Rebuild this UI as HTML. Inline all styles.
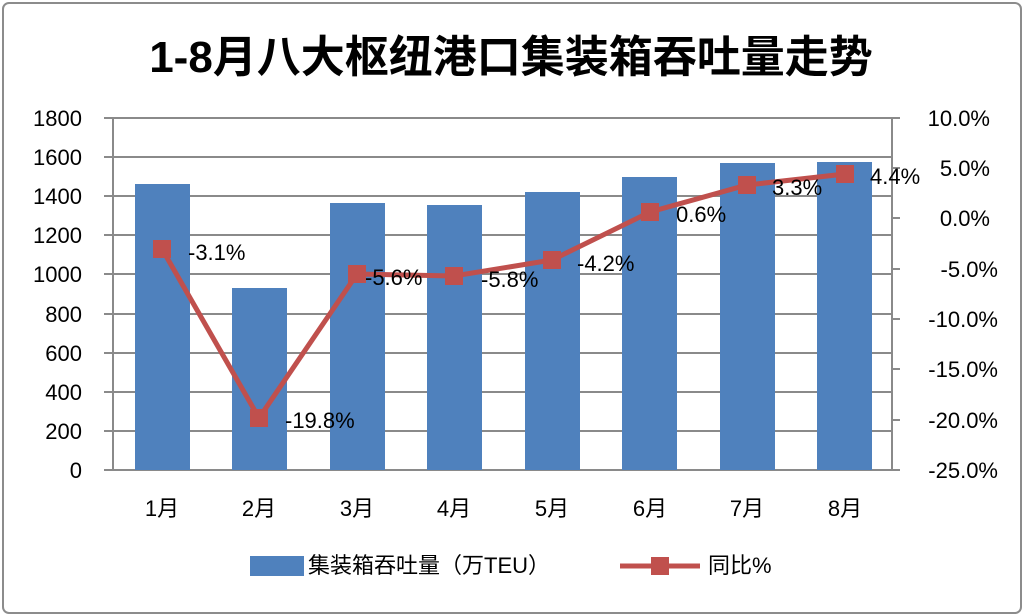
<!DOCTYPE html>
<html><head><meta charset="utf-8"><style>
body{margin:0;background:#fff;}
svg{display:block;font-family:"Liberation Sans","Noto Sans CJK SC",sans-serif;}
</style></head><body>
<svg width="1024" height="616" viewBox="0 0 1024 616">
<rect x="3" y="3" width="1018" height="610" rx="6" fill="#fff" stroke="#8c8c8c" stroke-width="2"/>
<text x="511" y="72" text-anchor="middle" font-size="44" font-weight="bold" fill="#000">1-8月八大枢纽港口集装箱吞吐量走势</text>
<g stroke="#8a8a8a" stroke-width="2">
<line x1="104" y1="118" x2="892" y2="118"/>
<line x1="104" y1="157" x2="892" y2="157"/>
<line x1="104" y1="196" x2="892" y2="196"/>
<line x1="104" y1="235" x2="892" y2="235"/>
<line x1="104" y1="274" x2="892" y2="274"/>
<line x1="104" y1="314" x2="892" y2="314"/>
<line x1="104" y1="353" x2="892" y2="353"/>
<line x1="104" y1="392" x2="892" y2="392"/>
<line x1="104" y1="431" x2="892" y2="431"/>
<line x1="104" y1="470" x2="892" y2="470"/>
<line x1="113" y1="118" x2="113" y2="470"/>
<line x1="892" y1="118" x2="892" y2="470"/>
<line x1="892" y1="118" x2="900" y2="118"/><line x1="892" y1="168" x2="900" y2="168"/><line x1="892" y1="218" x2="900" y2="218"/><line x1="892" y1="269" x2="900" y2="269"/><line x1="892" y1="319" x2="900" y2="319"/><line x1="892" y1="369" x2="900" y2="369"/><line x1="892" y1="420" x2="900" y2="420"/><line x1="892" y1="470" x2="900" y2="470"/>
</g>
<g fill="#4f81bd">
<rect x="135" y="184" width="55" height="286"/>
<rect x="232" y="288" width="55" height="182"/>
<rect x="330" y="203" width="55" height="267"/>
<rect x="427" y="205" width="55" height="265"/>
<rect x="525" y="192" width="55" height="278"/>
<rect x="622" y="177" width="55" height="293"/>
<rect x="720" y="163" width="55" height="307"/>
<rect x="817" y="162" width="55" height="308"/>
</g>
<polyline fill="none" stroke="#c0504d" stroke-width="5" points="162,249 259,418 357,274 454,276 552,260 650,212 747,185 845,174"/>
<g fill="#c0504d">
<rect x="153" y="240" width="18" height="18"/><rect x="250" y="409" width="18" height="18"/><rect x="348" y="265" width="18" height="18"/><rect x="445" y="267" width="18" height="18"/><rect x="543" y="251" width="18" height="18"/><rect x="641" y="203" width="18" height="18"/><rect x="738" y="176" width="18" height="18"/><rect x="836" y="165" width="18" height="18"/>
</g>
<g font-size="22" fill="#000">
<text x="188" y="260">-3.1%</text><text x="285" y="428">-19.8%</text><text x="365" y="285">-5.6%</text><text x="481" y="287">-5.8%</text><text x="577" y="271">-4.2%</text><text x="676" y="222">0.6%</text><text x="772" y="195">3.3%</text><text x="870" y="184">4.4%</text>
</g>
<g font-size="22" fill="#000" text-anchor="end">
<text x="82" y="126">1800</text><text x="82" y="165">1600</text><text x="82" y="204">1400</text><text x="82" y="243">1200</text><text x="82" y="282">1000</text><text x="82" y="322">800</text><text x="82" y="361">600</text><text x="82" y="400">400</text><text x="82" y="439">200</text><text x="82" y="478">0</text>
</g>
<g font-size="22" fill="#000" text-anchor="end">
<text x="990" y="126">10.0%</text><text x="990" y="176">5.0%</text><text x="990" y="226">0.0%</text><text x="998" y="277">-5.0%</text><text x="998" y="327">-10.0%</text><text x="998" y="377">-15.0%</text><text x="998" y="428">-20.0%</text><text x="998" y="478">-25.0%</text>
</g>
<g font-size="22" fill="#000" text-anchor="middle">
<text x="162" y="516">1月</text><text x="259" y="516">2月</text><text x="357" y="516">3月</text><text x="454" y="516">4月</text><text x="552" y="516">5月</text><text x="650" y="516">6月</text><text x="747" y="516">7月</text><text x="845" y="516">8月</text>
</g>
<rect x="250" y="556" width="54" height="20" fill="#4f81bd"/>
<text x="308" y="573" font-size="22" fill="#000">集装箱吞吐量（万TEU）</text>
<line x1="620" y1="566" x2="700" y2="566" stroke="#c0504d" stroke-width="5"/>
<rect x="651" y="557" width="18" height="18" fill="#c0504d"/>
<text x="708" y="573" font-size="22" fill="#000">同比%</text>
</svg>
</body></html>
